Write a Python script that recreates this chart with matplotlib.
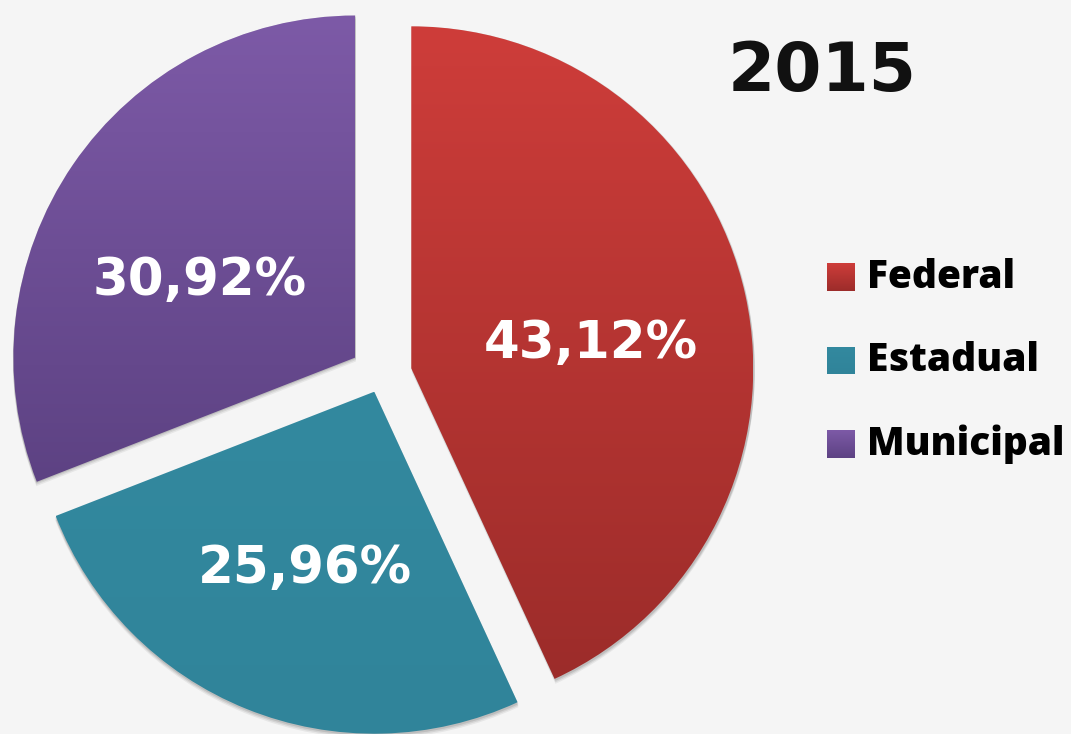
import numpy as np
import matplotlib.pyplot as plt
from matplotlib.colors import LinearSegmentedColormap
from matplotlib.patches import Wedge, Rectangle

# dados
categories = ["Federal", "Estadual", "Municipal"]
shares = [43.12, 25.96, 30.92]
year = "2015"

# estilo
top_colors = ["#ce3d3a", "#33899f", "#7d5aa7"]
bottom_colors = ["#9c2c2a", "#30849a", "#5d4283"]
explode = [31, 18, 31]  # em pixels (pie usa unidades de dados)
label_nudge = [(2, -15), (-2, -9), (-6, -26)]  # ajuste fino dos rótulos
bg = "#f5f5f5"

W, H = 1071, 734
fig = plt.figure(figsize=(W / 100, H / 100), dpi=100, facecolor=bg)
ax = fig.add_axes([0, 0, 1, 1])
ax.set_facecolor(bg)


def fill_gradient(patch, c_top, c_bottom, z):
    # degradê vertical recortado pelo patch
    ext = patch.get_path().get_extents(patch.get_patch_transform())
    cmap = LinearSegmentedColormap.from_list("g", [c_bottom, c_top])
    im = ax.imshow(np.linspace(0, 1, 256).reshape(-1, 1), cmap=cmap, origin="lower",
                   extent=(ext.x0, ext.x1, ext.y0, ext.y1), aspect="auto",
                   interpolation="bilinear", zorder=z)
    im.set_clip_path(patch)


wedges, _, autotexts = ax.pie(
    shares, startangle=90, counterclock=False, explode=explode,
    center=(381, 359), radius=342, pctdistance=0.53,
    autopct=lambda p: f"{p:.2f}%".replace(".", ","),
    wedgeprops=dict(linewidth=0),
    textprops=dict(color="white", fontsize=37, fontweight="bold", family="DejaVu Sans"))

for w, c0, c1 in zip(wedges, top_colors, bottom_colors):
    # sombra leve
    for dy, a in [(-4, 0.06), (-2.5, 0.08), (-1, 0.10)]:
        sh = Wedge((w.center[0] + 0.5, w.center[1] + dy), w.r + 1, w.theta1, w.theta2,
                   facecolor="black", alpha=a, linewidth=0, zorder=1)
        ax.add_patch(sh)
    w.set_zorder(2)
    fill_gradient(w, c0, c1, 2)
    w.set_facecolor("none")

for t, (dx, dy) in zip(autotexts, label_nudge):
    x, y = t.get_position()
    t.set_position((x + dx, y + dy))
    t.set_zorder(5)

ax.text(822, 662, year, ha="center", va="center", fontsize=49, fontweight="bold",
        color="#111111", family="DejaVu Sans")

# legenda
for i, (name, c0, c1) in enumerate(zip(categories, top_colors, bottom_colors)):
    yc = 457 - i * 83.5
    rect = Rectangle((827, yc - 14), 28, 28, facecolor="none", linewidth=0, zorder=3)
    ax.add_patch(rect)
    fill_gradient(rect, c0, c1, 3)
    ax.text(867, yc, name, ha="left", va="center", fontsize=28, fontweight="heavy",
            color="black", family="Open Sans")

ax.set_xlim(0, W)
ax.set_ylim(0, H)
ax.axis("off")

fig.savefig("out.png", dpi=100, facecolor=bg)
